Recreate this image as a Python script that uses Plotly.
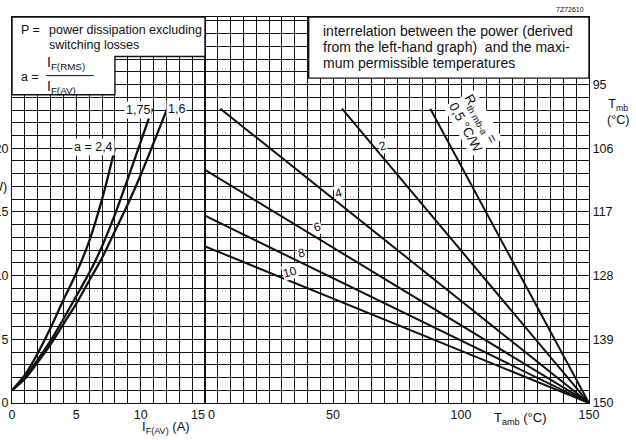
import plotly.graph_objects as go

# left graph: P (W) against I_F(AV) (A), one curve per form factor a
i_a24 = [0, 1, 2, 3, 4, 5, 6, 7, 8]
p_a24 = [1.0, 2.2, 3.9, 5.9, 8.1, 10.2, 12.7, 16.0, 20.0]
i_a175 = [0, 1, 2, 3, 4, 5, 6, 7, 8, 9, 10, 10.9]
p_a175 = [1.0, 2.0, 3.4, 4.9, 6.6, 8.4, 10.2, 12.3, 14.8, 17.6, 20.5, 23.1]
i_a16 = [0, 1, 2, 3, 4, 5, 6, 7, 8, 9, 10, 11, 12.1]
p_a16 = [1.0, 1.9, 3.2, 4.6, 6.2, 7.8, 9.6, 11.4, 13.5, 15.6, 17.9, 20.4, 23.2]

# right graph: P against T_amb, one straight line per Rth mb-a (degC/W)
rth_names = ["0,5", "2", "4", "6", "8", "10"]
tamb_top = [88, 53.5, 6, 0, 0, 0]
p_top = [23.1, 23.1, 23.1, 18.3, 14.7, 12.3]
tamb_end = 150
p_end = 0

# T_mb scale on the right, same height as P
tmb_p = [0, 5, 10, 15, 20, 25]
tmb_text = ["150", "139", "128", "117", "106", "95"]

FONT = "Liberation Sans, Arial, sans-serif"
INK = "#111"

fig = go.Figure()

for ii, pp in [(i_a24, p_a24), (i_a175, p_a175), (i_a16, p_a16)]:
    fig.add_trace(go.Scatter(x=ii, y=pp, mode="lines", line=dict(color=INK, width=2.3, shape="spline"),
                             xaxis="x", yaxis="y", showlegend=False, hoverinfo="skip"))

for k in range(len(rth_names)):
    fig.add_trace(go.Scatter(x=[tamb_top[k], tamb_end], y=[p_top[k], p_end], mode="lines",
                             line=dict(color=INK, width=2), xaxis="x2", yaxis="y2",
                             showlegend=False, hoverinfo="skip"))

d = 0.3345
ax = dict(ticks="", showgrid=True, gridcolor=INK, gridwidth=1.4,
          showline=True, linecolor=INK, linewidth=1.3, mirror=True, zeroline=False,
          automargin=False, fixedrange=True, tickfont=dict(size=12.5))

fig.update_layout(
    width=636, height=440, autosize=False,
    margin=dict(l=12, r=47, t=17, b=37),
    paper_bgcolor="white", plot_bgcolor="white",
    font=dict(family=FONT, size=12, color=INK),
    xaxis=dict(ax, domain=[0, d], range=[0, 15], tickvals=[0, 5, 10],
               minor=dict(dtick=1, showgrid=True, gridcolor=INK, gridwidth=1.3), anchor="y"),
    yaxis=dict(ax, range=[0, 30.3], tickvals=[0, 5, 10, 15, 20],
               minor=dict(dtick=1, showgrid=True, gridcolor=INK, gridwidth=1.3), anchor="x"),
    xaxis2=dict(ax, domain=[d, 1], range=[0, 150], tickvals=[50, 100, 150],
                minor=dict(dtick=5, showgrid=True, gridcolor=INK, gridwidth=1.3), anchor="y2"),
    yaxis2=dict(ax, range=[0, 30.3], side="right", tickvals=tmb_p, ticktext=tmb_text,
                minor=dict(dtick=1, showgrid=True, gridcolor=INK, gridwidth=1.3), anchor="x2"),
)

# white text boxes sitting on the grid
fig.add_shape(type="path", xref="x", yref="y", layer="above",
              path="M 0 30.3 L 15 30.3 L 15 27.2 L 8 27.2 L 8 24.2 L 0 24.2 Z",
              fillcolor="white", line=dict(color=INK, width=1.4))
fig.add_shape(type="rect", xref="x2", yref="y2", layer="above",
              x0=40.5, x1=150, y0=25.5, y1=30.3,
              fillcolor="white", line=dict(color=INK, width=1.4))
# fraction bar of a = I_F(RMS)/I_F(AV)
fig.add_shape(type="line", xref="x", yref="y", layer="above",
              x0=2.65, x1=6.35, y0=25.7, y1=25.7, line=dict(color=INK, width=1))

ann = []
def txt(x, y, s, xref="x", yref="y", size=12, **kw):
    ann.append(dict(x=x, y=y, xref=xref, yref=yref, text=s, showarrow=False,
                    font=dict(family=FONT, size=size, color=INK), **kw))

txt(0.55, 29.3, "P =", xanchor="left", size=12.5)
txt(2.75, 29.3, "power dissipation excluding", xanchor="left", size=12.5)
txt(2.75, 28.1, "switching losses", xanchor="left", size=12.5)
txt(0.55, 25.6, "a =", xanchor="left", size=12.5)
txt(2.6, 26.7, "I<sub>F(RMS)</sub>", xanchor="left", size=14)
txt(2.6, 24.8, "I<sub>F(AV)</sub>", xanchor="left", size=14)

txt(45.5, 29.2, "interrelation between the power (derived", xref="x2", yref="y2", xanchor="left", size=14)
txt(45.5, 27.95, "from the left-hand graph)  and the maxi-", xref="x2", yref="y2", xanchor="left", size=14)
txt(45.5, 26.7, "mum permissible temperatures", xref="x2", yref="y2", xanchor="left", size=14)

# bottom tick labels next to the shared edge, pulled apart as in the original
txt(15, 0, "15", yanchor="top", yshift=-3, xshift=-7, size=12.5)
txt(0, 0, "0", xref="x2", yref="y2", yanchor="top", yshift=-3, xshift=6, size=12.5)

# curve labels, left graph
txt(6.3, 20.1, "a = 2,4", bgcolor="white", size=12.5)
txt(9.8, 23.0, "1,75", bgcolor="white", size=12.5)
txt(12.8, 23.1, "1,6", bgcolor="white", size=12.5)

# line labels, right graph
lab_t = [69.3, 52.1, 43.8, 37.8, 33.3]
lab_p = [20.2, 16.5, 13.8, 11.8, 10.3]
for k in range(5):
    txt(lab_t[k], lab_p[k], rth_names[k + 1], xref="x2", yref="y2", bgcolor="white",
        size=12, textangle=-15, borderpad=0)
txt(104.5, 22.0, "R<sub>th mb-a</sub> =<br>0,5 \u00b0C/W", xref="x2", yref="y2",
    bgcolor="white", size=13.5, textangle=61)

# axis titles
txt(0.222, -0.036, "I<sub>F(AV)</sub> (A)", xref="paper", yref="paper", yanchor="top", xanchor="left", size=13)
txt(0.832, -0.012, "T<sub>amb</sub> (\u00b0C)", xref="paper", yref="paper", yanchor="top", xanchor="left", size=13)
txt(1.028, 0.797, "T<sub>mb</sub><br>(\u00b0C)", xref="paper", yref="paper", xanchor="left", size=12.5)
txt(-0.005, 0.56, "(W)", xref="paper", yref="paper", xanchor="right", size=12.5)
txt(0.995, 1.005, "7Z72610", xref="paper", yref="paper", yanchor="bottom", xanchor="right", size=7)

fig.update_layout(annotations=ann)

fig.write_html("out.html", config={"displayModeBar": False},
               post_script="document.body.style.margin='0';")
